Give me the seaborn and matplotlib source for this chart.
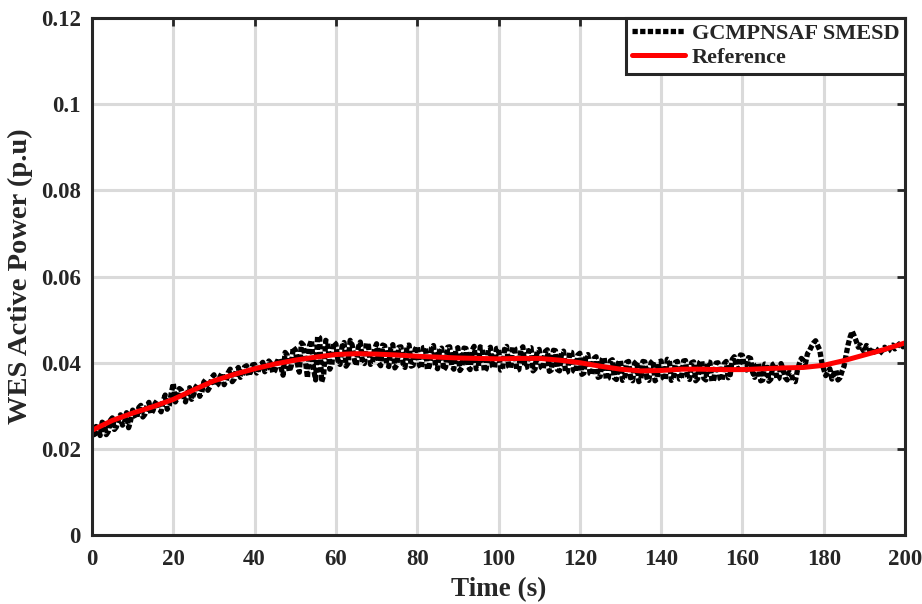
import matplotlib
matplotlib.use("Agg")
import matplotlib.pyplot as plt
import seaborn as sns
import pandas as pd

# ---- data ----
ref_time = [0, 5, 10, 15, 20, 25, 30, 35, 40, 45, 50, 55, 60, 65, 70, 75, 80, 85, 90, 95,
            100, 105, 110, 115, 120, 125, 130, 135, 140, 145, 150, 155, 160, 165, 170, 175,
            180, 185, 190, 195, 200]
ref_power = [0.0243, 0.0266, 0.0283, 0.0298, 0.0315, 0.0337, 0.0358, 0.0373, 0.0386, 0.0397,
             0.0406, 0.0413, 0.0419, 0.0421, 0.0420, 0.0418, 0.0415, 0.0413, 0.0411, 0.0410,
             0.0409, 0.0410, 0.0410, 0.0406, 0.0400, 0.0392, 0.0385, 0.0381, 0.0382, 0.0385,
             0.0385, 0.0384, 0.0384, 0.0386, 0.0388, 0.0389, 0.0394, 0.0405, 0.0418, 0.0431,
             0.0446]

# SMESD samples at whole seconds (0..200)
smesd_time_a = list(range(0, 201))
smesd_power_a = [
    0.0238, 0.0252, 0.0231, 0.0258, 0.0240, 0.0272, 0.0251, 0.0279, 0.0262, 0.0249,
    0.0290, 0.0271, 0.0301, 0.0280, 0.0308, 0.0289, 0.0312, 0.0286, 0.0325, 0.0301,
    0.0352, 0.0318, 0.0336, 0.0309, 0.0342, 0.0326, 0.0350, 0.0331, 0.0361, 0.0344,
    0.0372, 0.0350, 0.0376, 0.0358, 0.0385, 0.0362, 0.0389, 0.0371, 0.0393, 0.0378,
    0.0396, 0.0383, 0.0401, 0.0386, 0.0398, 0.0382, 0.0410, 0.0371, 0.0418, 0.0392,
    0.0430, 0.0378, 0.0441, 0.0365, 0.0452, 0.0360, 0.0458, 0.0372, 0.0446, 0.0395,
    0.0443, 0.0396, 0.0447, 0.0399, 0.0441, 0.0394, 0.0448, 0.0398, 0.0440, 0.0401,
    0.0444, 0.0393, 0.0439, 0.0391, 0.0442, 0.0395, 0.0437, 0.0389, 0.0441, 0.0394,
    0.0438, 0.0387, 0.0436, 0.0392, 0.0440, 0.0386, 0.0434, 0.0390, 0.0437, 0.0385,
    0.0435, 0.0389, 0.0433, 0.0384, 0.0438, 0.0388, 0.0432, 0.0386, 0.0436, 0.0389,
    0.0434, 0.0385, 0.0438, 0.0388, 0.0433, 0.0384, 0.0437, 0.0390, 0.0435, 0.0386,
    0.0431, 0.0385, 0.0430, 0.0383, 0.0428, 0.0381, 0.0427, 0.0379, 0.0424, 0.0378,
    0.0422, 0.0376, 0.0419, 0.0372, 0.0414, 0.0368, 0.0411, 0.0364, 0.0407, 0.0361,
    0.0405, 0.0362, 0.0403, 0.0358, 0.0404, 0.0361, 0.0402, 0.0359, 0.0405, 0.0363,
    0.0404, 0.0360, 0.0406, 0.0362, 0.0403, 0.0364, 0.0405, 0.0361, 0.0402, 0.0363,
    0.0404, 0.0360, 0.0401, 0.0362, 0.0400, 0.0359, 0.0403, 0.0372, 0.0414, 0.0385,
    0.0417, 0.0383, 0.0410, 0.0366, 0.0398, 0.0360, 0.0396, 0.0362, 0.0399, 0.0364,
    0.0385, 0.0360, 0.0375, 0.0356, 0.0398, 0.0405, 0.0421, 0.0438, 0.0451, 0.0430,
    0.0385, 0.0378, 0.0362, 0.0383, 0.0365, 0.0392, 0.0442, 0.0473, 0.0450, 0.0441,
    0.0425, 0.0437, 0.0420, 0.0431, 0.0424, 0.0436, 0.0428, 0.0441, 0.0436, 0.0446,
    0.0442]

# SMESD samples at half seconds (0.5..199.5)
smesd_time_b = [t + 0.5 for t in range(0, 200)]
smesd_power_b = [
    0.0226, 0.0247, 0.0262, 0.0233, 0.0266, 0.0245, 0.0268, 0.0255, 0.0284, 0.0266,
    0.0280, 0.0296, 0.0274, 0.0299, 0.0281, 0.0305, 0.0294, 0.0311, 0.0292, 0.0330,
    0.0309, 0.0340, 0.0322, 0.0330, 0.0315, 0.0343, 0.0322, 0.0355, 0.0336, 0.0366,
    0.0346, 0.0368, 0.0349, 0.0377, 0.0356, 0.0383, 0.0366, 0.0390, 0.0370, 0.0395,
    0.0376, 0.0395, 0.0379, 0.0404, 0.0376, 0.0402, 0.0388, 0.0424, 0.0380, 0.0436,
    0.0398, 0.0446, 0.0402, 0.0440, 0.0385, 0.0462, 0.0355, 0.0452, 0.0385, 0.0448,
    0.0405, 0.0438, 0.0392, 0.0452, 0.0408, 0.0436, 0.0402, 0.0445, 0.0396, 0.0432,
    0.0400, 0.0441, 0.0397, 0.0434, 0.0388, 0.0436, 0.0398, 0.0440, 0.0392, 0.0431,
    0.0395, 0.0435, 0.0384, 0.0434, 0.0393, 0.0429, 0.0383, 0.0436, 0.0392, 0.0430,
    0.0382, 0.0434, 0.0391, 0.0429, 0.0386, 0.0437, 0.0380, 0.0431, 0.0392, 0.0433,
    0.0383, 0.0432, 0.0391, 0.0436, 0.0382, 0.0430, 0.0389, 0.0434, 0.0381, 0.0428,
    0.0389, 0.0426, 0.0380, 0.0429, 0.0384, 0.0422, 0.0377, 0.0425, 0.0381, 0.0418,
    0.0373, 0.0416, 0.0375, 0.0410, 0.0366, 0.0408, 0.0362, 0.0404, 0.0365, 0.0400,
    0.0359, 0.0401, 0.0364, 0.0399, 0.0356, 0.0403, 0.0364, 0.0400, 0.0358, 0.0402,
    0.0365, 0.0408, 0.0359, 0.0401, 0.0362, 0.0404, 0.0366, 0.0400, 0.0358, 0.0401,
    0.0364, 0.0402, 0.0357, 0.0399, 0.0363, 0.0398, 0.0365, 0.0408, 0.0391, 0.0418,
    0.0392, 0.0412, 0.0378, 0.0395, 0.0358, 0.0397, 0.0357, 0.0396, 0.0361, 0.0398,
    0.0366, 0.0378, 0.0358, 0.0381, 0.0410, 0.0398, 0.0428, 0.0446, 0.0440, 0.0402,
    0.0370, 0.0386, 0.0375, 0.0360, 0.0380, 0.0418, 0.0460, 0.0462, 0.0436, 0.0432,
    0.0440, 0.0422, 0.0434, 0.0419, 0.0430, 0.0425, 0.0438, 0.0432, 0.0443, 0.0437]

x_ticks = [0, 20, 40, 60, 80, 100, 120, 140, 160, 180, 200]
y_ticks = [0, 0.02, 0.04, 0.06, 0.08, 0.1, 0.12]
y_tick_labels = ["0", "0.02", "0.04", "0.06", "0.08", "0.1", "0.12"]

# ---- styling ----
sns.set_theme(style="whitegrid")
plt.rcParams["font.family"] = ["Liberation Serif", "DejaVu Serif"]
plt.rcParams["font.weight"] = "bold"

fig = plt.figure(figsize=(9.22, 6.04), dpi=100)
ax = fig.add_axes([0.0998, 0.1142, 0.8818, 0.8558])

df_s = pd.DataFrame({"t": smesd_time_a + smesd_time_b,
                     "p": smesd_power_a + smesd_power_b}).sort_values("t")
df_r = pd.DataFrame({"t": ref_time, "p": ref_power})

sns.lineplot(data=df_s, x="t", y="p", ax=ax, color="black", linewidth=3.8,
             linestyle=(0, (1, 0.45)), label="GCMPNSAF SMESD")
sns.lineplot(data=df_r, x="t", y="p", ax=ax, color="#ff0000", linewidth=3.6,
             label="Reference")

ax.set_xlim(0, 200)
ax.set_ylim(0, 0.12)
ax.set_xticks(x_ticks)
ax.set_yticks(y_ticks)
ax.set_yticklabels(y_tick_labels)
ax.set_xlabel("Time (s)", fontsize=19.5, fontweight="bold", labelpad=5)
ax.set_ylabel("WES Active Power (p.u)", fontsize=20.5, fontweight="bold", labelpad=6)
ax.tick_params(axis="both", labelsize=16.5, direction="in", length=6, width=2,
               color="#262626", top=True, right=True)
ax.tick_params(axis="x", pad=10)
ax.tick_params(axis="y", pad=8)
for lbl in ax.get_xticklabels() + ax.get_yticklabels():
    lbl.set_fontweight("bold")
    lbl.set_color("#262626")

ax.grid(True, color="#dadada", linewidth=2.2)
ax.set_axisbelow(True)
for sp in ax.spines.values():
    sp.set_visible(True)
    sp.set_color("#262626")
    sp.set_linewidth(2.2)

leg = ax.legend(loc="upper right", borderaxespad=0, fancybox=False, framealpha=1,
                edgecolor="#262626", prop={"family": "Liberation Serif", "weight": "bold", "size": 16},
                handlelength=2.4, handletextpad=0.3, borderpad=0.25, labelspacing=0.15)
leg.get_frame().set_linewidth(2.2)

fig.savefig("out.png", dpi=100)
